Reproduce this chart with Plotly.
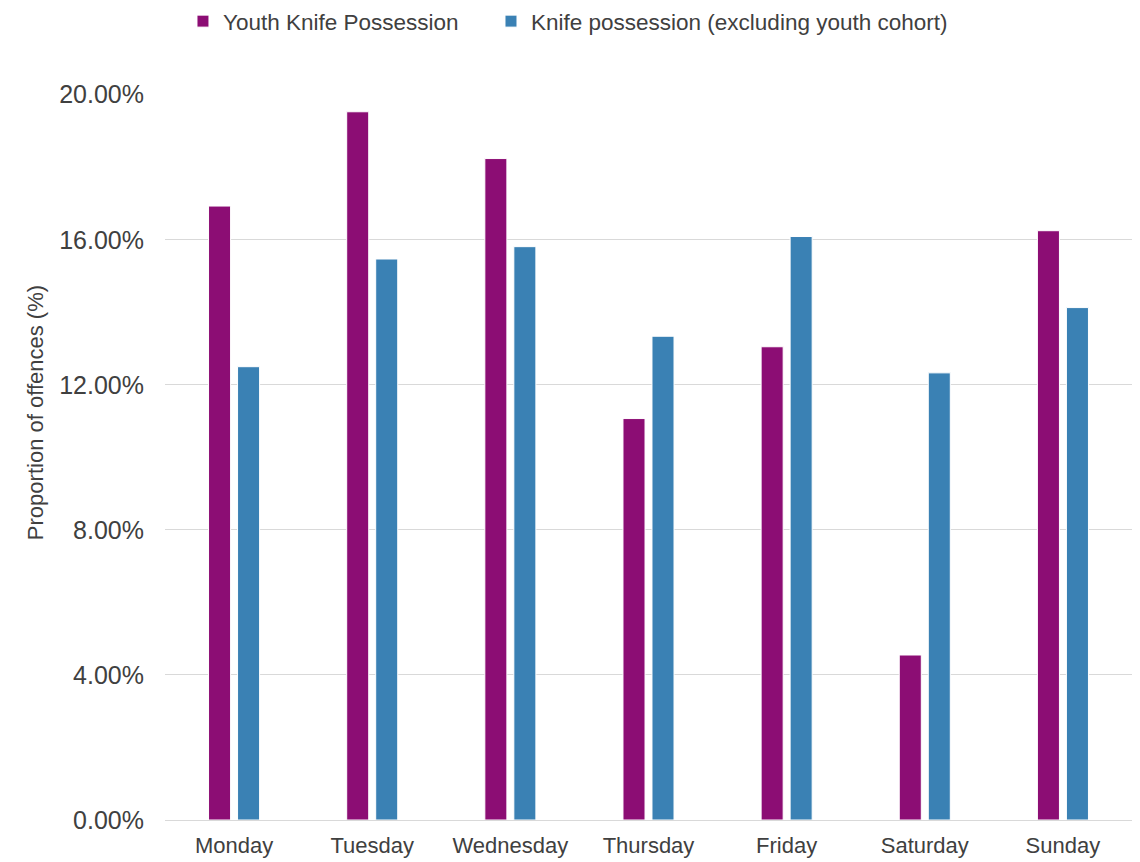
import plotly.graph_objects as go

days = ["Monday", "Tuesday", "Wednesday", "Thursday", "Friday", "Saturday", "Sunday"]
youth_pct = [16.93, 19.53, 18.24, 11.07, 13.05, 4.55, 16.25]
other_pct = [12.50, 15.47, 15.81, 13.34, 16.09, 12.33, 14.13]
tick_vals = [0, 4, 8, 12, 16, 20]
tick_text = ["0.00%", "4.00%", "8.00%", "12.00%", "16.00%", "20.00%"]
y_title = "Proportion of offences (%)"

font_family = "Liberation Sans, Arial, sans-serif"
text_color = "#404040"

fig = go.Figure()
fig.add_trace(go.Bar(
    x=days, y=youth_pct, name="Youth Knife Possession", legend="legend",
    marker=dict(color="#8C0D74", line=dict(color="#ffffff", width=1)),
))
fig.add_trace(go.Bar(
    x=days, y=other_pct, name="Knife possession (excluding youth cohort)", legend="legend2",
    marker=dict(color="#3A81B4", line=dict(color="#ffffff", width=1)),
))

# vertical axis title, placed a little above the plot's midpoint
fig.add_annotation(
    text=y_title, textangle=-90, showarrow=False,
    xref="paper", yref="paper", x=-0.134, y=0.561,
    xanchor="center", yanchor="middle",
    font=dict(family=font_family, size=22, color=text_color),
)

legend_style = dict(orientation="h", xanchor="left", xref="container",
                    y=1.0, yanchor="top", yref="container",
                    font=dict(size=22.5, color=text_color), itemwidth=30)

fig.update_layout(
    width=1140, height=862,
    margin=dict(l=165, r=8, t=94, b=42),
    paper_bgcolor="white", plot_bgcolor="white",
    barmode="group", bargap=0.58, bargroupgap=0.24,
    font=dict(family=font_family, size=22, color=text_color),
    legend=dict(x=0.1605, **legend_style),
    legend2=dict(x=0.4307, **legend_style),
    showlegend=True,
    xaxis=dict(showgrid=False, showline=True, linecolor="#D9D9D9", linewidth=1,
               ticks="", ticklabelstandoff=6, automargin=False,
               tickfont=dict(size=22, color=text_color)),
    yaxis=dict(range=[0, 20.02], tickvals=tick_vals, ticktext=tick_text,
               showgrid=True, gridcolor="#D9D9D9", gridwidth=1,
               zeroline=False, showline=False, ticks="", ticklabelstandoff=20,
               automargin=False,
               tickfont=dict(size=25, color=text_color)),
)

fig.write_html("out.html")
